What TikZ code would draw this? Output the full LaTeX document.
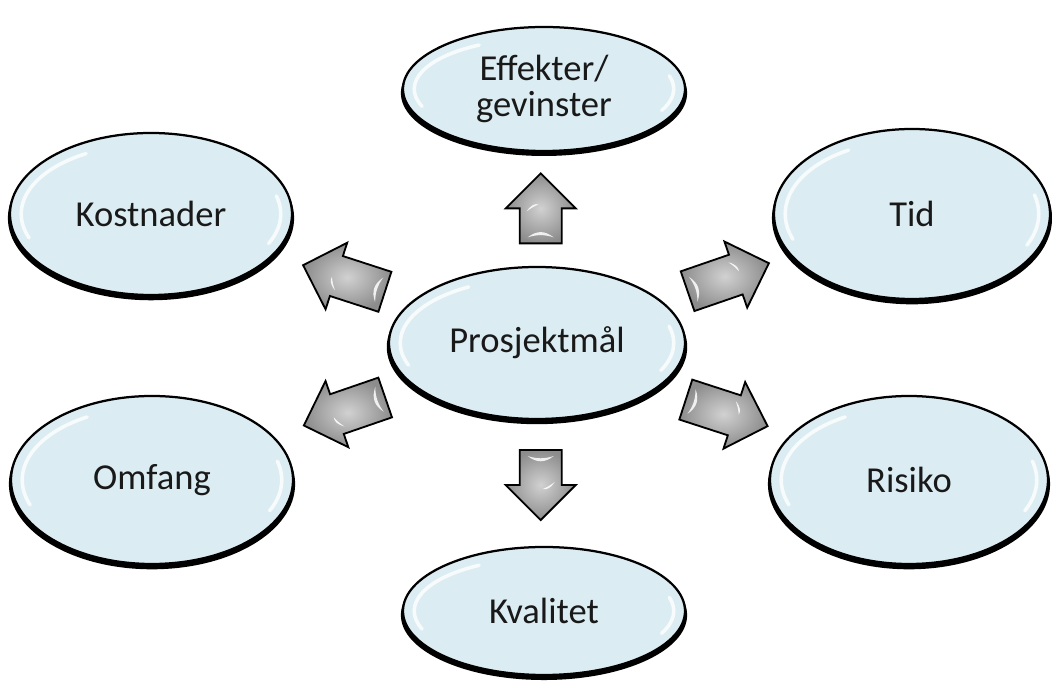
\documentclass[tikz,border=0pt]{standalone}
\usepackage{fontspec}
\setmainfont{Carlito}
\usetikzlibrary{shapes.geometric,shadows,calc}

\definecolor{goalblue}{RGB}{219,237,243}

\tikzset{
  goal/.style={ellipse, draw=black, line width=1.6pt, fill=goalblue, text=black!90,
    align=center, inner sep=0pt, font=\fontsize{26}{25}\selectfont,
    drop shadow={shadow xshift=0mm, shadow yshift=-1mm, shadow scale=1.015, fill=black, opacity=1},
    path picture={
      \draw[white, line width=2.5pt, opacity=.8, line cap=round]
        let \p1=(path picture bounding box.center), \p2=(path picture bounding box.north east) in
        (\p1) ++(120:{\x2-\x1-8pt} and {\y2-\y1-8pt})
          arc[start angle=120, end angle=200, x radius=\x2-\x1-8pt, y radius=\y2-\y1-8pt]
        (\p1) ++(-25:{\x2-\x1-8pt} and {\y2-\y1-8pt})
          arc[start angle=-25, end angle=15, x radius=\x2-\x1-8pt, y radius=\y2-\y1-8pt];
    }},
  arrowbody/.style={draw=black, line width=1.3pt, line join=miter,
    inner color=black!18, outer color=black!45},
  blockarrow/.pic={
    \draw[arrowbody] (-#1/2,-21) -- (#1/2-35,-21) -- (#1/2-35,-35) -- (#1/2,0)
      -- (#1/2-35,35) -- (#1/2-35,21) -- (-#1/2,21) -- cycle;
    % glossy spots
    \fill[white, opacity=.85] (-#1/2+6,-13) .. controls (-#1/2+13,-4) and (-#1/2+13,4) .. (-#1/2+6,13)
      .. controls (-#1/2+9,4) and (-#1/2+9,-4) .. (-#1/2+6,-13);
    \fill[white, opacity=.85] (#1/2-38,14) .. controls (#1/2-32,10) and (#1/2-30,6) .. (#1/2-31,2)
      .. controls (#1/2-33,7) and (#1/2-35,10) .. (#1/2-38,14);
  }
}

\begin{document}
\begin{tikzpicture}[x=0.25mm,y=0.25mm]
  \useasboundingbox (0,0) rectangle (1052,687);

  % sizes in mm (1 px = 0.25mm)
  \node[goal, minimum width=74mm, minimum height=38mm] (mal) at (537,344) {Prosjektmål};
  \node[goal, minimum width=70.5mm, minimum height=31mm] (eff) at (544,598) {Effekter/\\gevinster};
  \node[goal, minimum width=70.5mm, minimum height=32mm] (kval) at (544,76) {Kvalitet};
  \node[goal, minimum width=70.5mm, minimum height=40.5mm] (kost) at (151,473) {Kostnader};
  \node[goal, minimum width=69mm, minimum height=42.5mm] (tid) at (912,473) {Tid};
  \node[goal, minimum width=70.5mm, minimum height=42mm] (omf) at (152,207) {Omfang};
  \node[goal, minimum width=69.5mm, minimum height=42mm] (ris) at (909,207) {Risiko};

  \path ($(mal)!.53!(eff)$) pic[rotate=90] {blockarrow=70};
  \path ($(mal)!.53!(kval)$) pic[rotate=-90] {blockarrow=70};
  \path ($(mal)!.5!(kost)$) pic[rotate=162] {blockarrow=86};
  \path ($(mal)!.51!(tid)$) pic[rotate=19] {blockarrow=86};
  \path ($(mal)!.5!(omf)$) pic[rotate=199] {blockarrow=86};
  \path ($(mal)!.51!(ris)$) pic[rotate=-18] {blockarrow=86};
\end{tikzpicture}
\end{document}
